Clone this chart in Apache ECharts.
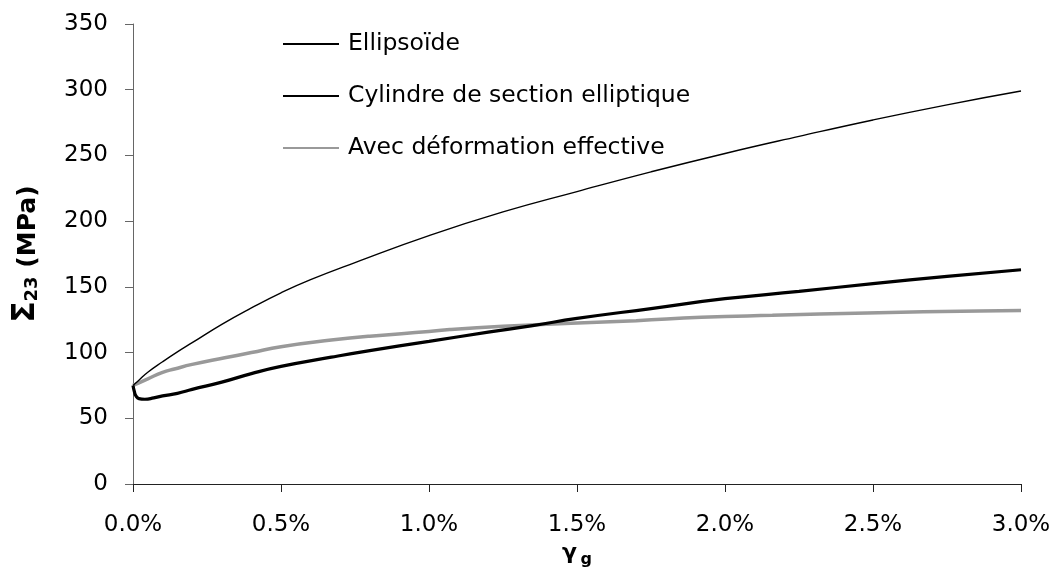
<!DOCTYPE html>
<html>
<head>
<meta charset="utf-8">
<script src="https://cdn.jsdelivr.net/npm/echarts@6/dist/echarts.min.js"></script>
<style>
  html, body { margin: 0; padding: 0; background: #ffffff; }
  #chart { width: 1058px; height: 576px; }
</style>
</head>
<body>
<div id="chart"></div>
<script>
// gamma_g in percent, Sigma_23 in MPa
const seriesNames = ['Ellipsoïde', 'Cylindre de section elliptique', 'Avec déformation effective'];

const ellipsoideX = [0, 0.02, 0.05, 0.1, 0.15, 0.2, 0.3, 0.4, 0.5, 0.6, 0.75, 1.0, 1.25, 1.5, 1.75, 2.0, 2.25, 2.5, 2.75, 3.0];
const ellipsoideY = [75, 79, 85, 93, 100.5, 107.5, 121.5, 134, 145.5, 155.5, 168.5, 189, 207, 222.5, 237.5, 251.5, 264.5, 277, 288.5, 299];

const cylindreX = [0, 0.005, 0.01, 0.02, 0.04, 0.07, 0.1, 0.15, 0.2, 0.3, 0.4, 0.5, 0.67, 0.8, 1.0, 1.2, 1.35, 1.5, 1.75, 2.0, 2.25, 2.5, 2.75, 3.0];
const cylindreY = [75, 70, 67, 65, 64.5, 65.5, 67, 69, 72, 77.5, 84, 89.5, 96.5, 101.5, 108.5, 115.5, 120.5, 126, 133.5, 141, 146.5, 152.5, 158, 163];

const effectiveX = [0, 0.02, 0.05, 0.1, 0.14, 0.2, 0.31, 0.4, 0.5, 0.67, 0.8, 1.0, 1.07, 1.25, 1.48, 1.7, 1.92, 2.16, 2.48, 2.86, 3.0];
const effectiveY = [75, 77, 80, 85, 87.5, 91, 96, 100, 104.5, 109.5, 112.5, 116, 117.5, 120, 122.3, 124.3, 126.8, 128.4, 130.2, 131.7, 132];

const xTicks = [0, 0.5, 1.0, 1.5, 2.0, 2.5, 3.0];
const yTicks = [0, 50, 100, 150, 200, 250, 300, 350];

function pairs(xs, ys) { return xs.map((x, i) => [x, ys[i]]); }

const FONT = 'DejaVu Sans';
const chart = echarts.init(document.getElementById('chart'));
chart.setOption({
  backgroundColor: '#ffffff',
  animation: false,
  grid: { left: 133, right: 37, top: 24, bottom: 92, containLabel: false },
  legend: {
    orient: 'vertical',
    left: 277,
    top: 27,
    itemWidth: 56,
    itemHeight: 14,
    itemGap: 28,
    itemStyle: { opacity: 0 },
    textStyle: { fontFamily: FONT, fontSize: 23.5, color: '#000', lineHeight: 22, padding: [0, 0, 0, 4] },
    data: seriesNames
  },
  xAxis: {
    type: 'value',
    min: xTicks[0],
    max: xTicks[xTicks.length - 1],
    interval: 0.5,
    splitLine: { show: false },
    axisLine: { onZero: false, lineStyle: { color: '#222', width: 1 } },
    axisTick: { show: true, inside: false, length: 8, lineStyle: { color: '#222' } },
    axisLabel: { margin: 30, fontFamily: FONT, fontSize: 23, color: '#000',
      formatter: v => v.toFixed(1) + '%' },
    name: '{g|γ} {s|g}',
    nameLocation: 'middle',
    nameGap: 58,
    nameTextStyle: {
      rich: {
        g: { fontFamily: FONT, fontSize: 22, fontWeight: 'bold', color: '#000', verticalAlign: 'bottom' },
        s: { fontFamily: FONT, fontSize: 16, fontWeight: 'bold', color: '#000', verticalAlign: 'bottom', padding: [0, 0, -4, 0] }
      }
    }
  },
  yAxis: {
    type: 'value',
    min: yTicks[0],
    max: yTicks[yTicks.length - 1],
    interval: 50,
    splitLine: { show: false },
    axisLine: { show: true, lineStyle: { color: '#666', width: 1 } },
    axisTick: { show: true, inside: false, length: 8, lineStyle: { color: '#666' } },
    axisLabel: { margin: 25, fontFamily: FONT, fontSize: 23, color: '#000' },
    name: '{S|Σ}{n|23}{u| (MPa)}',
    nameLocation: 'middle',
    nameGap: 92,
    nameRotate: 90,
    nameTextStyle: {
      rich: {
        S: { fontFamily: FONT, fontSize: 31, fontWeight: 'bold', color: '#000', verticalAlign: 'bottom' },
        n: { fontFamily: FONT, fontSize: 18, fontWeight: 'bold', color: '#000', verticalAlign: 'bottom' },
        u: { fontFamily: FONT, fontSize: 25, fontWeight: 'bold', color: '#000', verticalAlign: 'bottom' }
      }
    }
  },
  series: [
    {
      name: seriesNames[0], type: 'line', symbol: 'none', smooth: true,
      data: pairs(ellipsoideX, ellipsoideY),
      lineStyle: { color: '#000000', width: 1.4 }, itemStyle: { color: '#000000' }, z: 3
    },
    {
      name: seriesNames[1], type: 'line', symbol: 'none', smooth: true,
      data: pairs(cylindreX, cylindreY),
      lineStyle: { color: '#000000', width: 3.2 }, itemStyle: { color: '#000000' }, z: 4
    },
    {
      name: seriesNames[2], type: 'line', symbol: 'none', smooth: true,
      data: pairs(effectiveX, effectiveY),
      lineStyle: { color: '#999999', width: 3.5 }, itemStyle: { color: '#999999' }, z: 2
    }
  ]
});
</script>
</body>
</html>
